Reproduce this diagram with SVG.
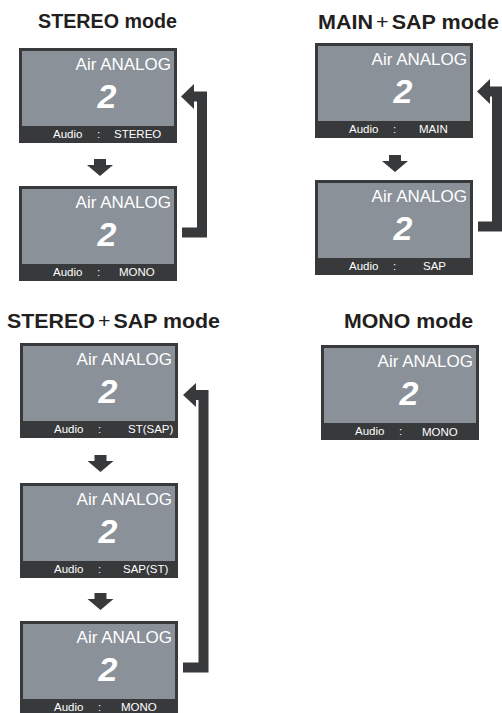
<svg xmlns="http://www.w3.org/2000/svg" width="502" height="713" viewBox="0 0 502 713">
<style>
.title{font-family:"Liberation Sans",Arial,sans-serif;font-weight:bold;font-size:21px;fill:#231f20}
.plus{font-weight:normal}
.frame{fill:#38393b}
.screen{fill:#8a9199}
.air{font-family:"Liberation Sans",Arial,sans-serif;font-size:17px;fill:#ffffff;text-anchor:end}
.ch{font-family:"Liberation Sans",Arial,sans-serif;font-size:34px;font-weight:bold;font-style:italic;fill:#ffffff;text-anchor:middle}
.bar{font-family:"Liberation Sans",Arial,sans-serif;font-size:11.5px;fill:#ffffff}
.arrow{fill:#38393b}
.loop{fill:none;stroke:#38393b;stroke-width:10;stroke-linejoin:miter}
</style>
<defs>
<g id="panelbg">
<rect class="frame" x="0" y="0" width="158" height="95"/>
<rect class="screen" x="3" y="3" width="152" height="75"/>
<text class="air" x="152" y="22">Air ANALOG</text>
<text class="ch" x="88" y="60">2</text>
<text class="bar" x="34" y="90">Audio</text>
<text class="bar" x="78" y="90">:</text>
</g>
<polygon id="down" points="-6,0 6,0 6,6 13,6 0,17 -13,6 -6,6"/>
</defs>

<g id="titles">
<text class="title" x="38" y="28" textLength="139" lengthAdjust="spacingAndGlyphs">STEREO mode</text>
<text class="title" x="318" y="29" textLength="181" lengthAdjust="spacingAndGlyphs">MAIN<tspan class="plus" dx="3">+</tspan><tspan dx="3">SAP mode</tspan></text>
<text class="title" x="7" y="328" textLength="213" lengthAdjust="spacingAndGlyphs">STEREO<tspan class="plus" dx="3">+</tspan><tspan dx="3">SAP mode</tspan></text>
<text class="title" x="344" y="328" textLength="129" lengthAdjust="spacingAndGlyphs">MONO mode</text>
</g>

<g id="stereo-1" transform="translate(19,48)">
<use href="#panelbg"/>
<text class="bar" x="95" y="90">STEREO</text>
</g>
<g id="stereo-2" transform="translate(19,186)">
<use href="#panelbg"/>
<text class="bar" x="100" y="90">MONO</text>
</g>

<g id="mainsap-1" transform="translate(315,43)">
<use href="#panelbg"/>
<text class="bar" x="104" y="90">MAIN</text>
</g>
<g id="mainsap-2" transform="translate(315,180)">
<use href="#panelbg"/>
<text class="bar" x="108" y="90">SAP</text>
</g>

<g id="stsap-1" transform="translate(20,343)">
<use href="#panelbg"/>
<text class="bar" x="108" y="90">ST(SAP)</text>
</g>
<g id="stsap-2" transform="translate(20,483)">
<use href="#panelbg"/>
<text class="bar" x="103" y="90">SAP(ST)</text>
</g>
<g id="stsap-3" transform="translate(20,621)">
<use href="#panelbg"/>
<text class="bar" x="101" y="90">MONO</text>
</g>

<g id="mono-1" transform="translate(321,345)">
<use href="#panelbg"/>
<text class="bar" x="101" y="91">MONO</text>
</g>

<g id="connectors">
<use href="#down" class="arrow" x="100" y="159"/>
<use href="#down" class="arrow" x="395" y="155"/>
<use href="#down" class="arrow" x="100.5" y="455"/>
<use href="#down" class="arrow" x="100.5" y="593"/>

<path class="loop" d="M182 232.5 H202 V96.5 H192"/>
<polygon class="arrow" points="181,96.5 194,84 194,109"/>

<path class="loop" d="M478 226.5 H497 V91.5 H488"/>
<polygon class="arrow" points="477,91.5 490,79 490,104"/>

<path class="loop" d="M183 667.5 H203.5 V395 H194"/>
<polygon class="arrow" points="183,395 196,383 196,407"/>
</g>
</svg>
